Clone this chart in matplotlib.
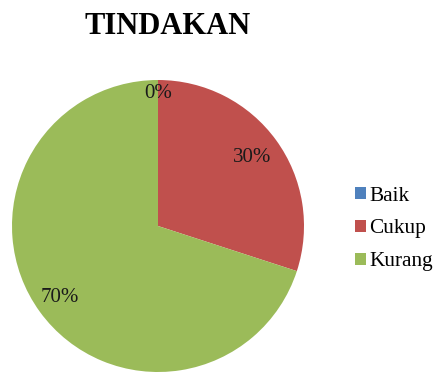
import matplotlib.pyplot as plt
import numpy as np

kategori = ['Baik', 'Cukup', 'Kurang']
nilai = [0, 30, 70]
warna = ['#4F81BD', '#C0504D', '#9BBB59']
jarak_label = [0.91, 0.80, 0.83]

plt.rcParams['font.family'] = ['Liberation Serif', 'DejaVu Serif']

fig = plt.figure(figsize=(4.33, 3.74), dpi=100)
W, H = 433, 374
cx, cy, r = 158, 226, 146
ax = fig.add_axes([(cx - r) / W, (H - cy - r) / H, 2 * r / W, 2 * r / H])

wedges, texts, autotexts = ax.pie(nilai, colors=warna, startangle=90, counterclock=False,
                                  autopct='%1.0f%%', radius=1,
                                  textprops={'fontsize': 15, 'color': '#1a1a1a'})
for w, t, d in zip(wedges, autotexts, jarak_label):
    ang = np.deg2rad((w.theta1 + w.theta2) / 2)
    t.set_position((d * np.cos(ang), d * np.sin(ang)))
ax.set_xlim(-1, 1)
ax.set_ylim(-1, 1)
ax.set_aspect('equal')

fig.text(168 / W, 1 - 27 / H, 'TINDAKAN', ha='center', va='center',
         fontsize=22, fontweight='bold')

fig.legend(wedges, kategori, loc='center left', bbox_to_anchor=(340 / W, 1 - 229 / H),
           frameon=False, fontsize=15.3, handlelength=0.52, handleheight=0.52,
           handletextpad=0.15, labelspacing=0.65, borderpad=0.2)

fig.savefig('out.png', dpi=100)
